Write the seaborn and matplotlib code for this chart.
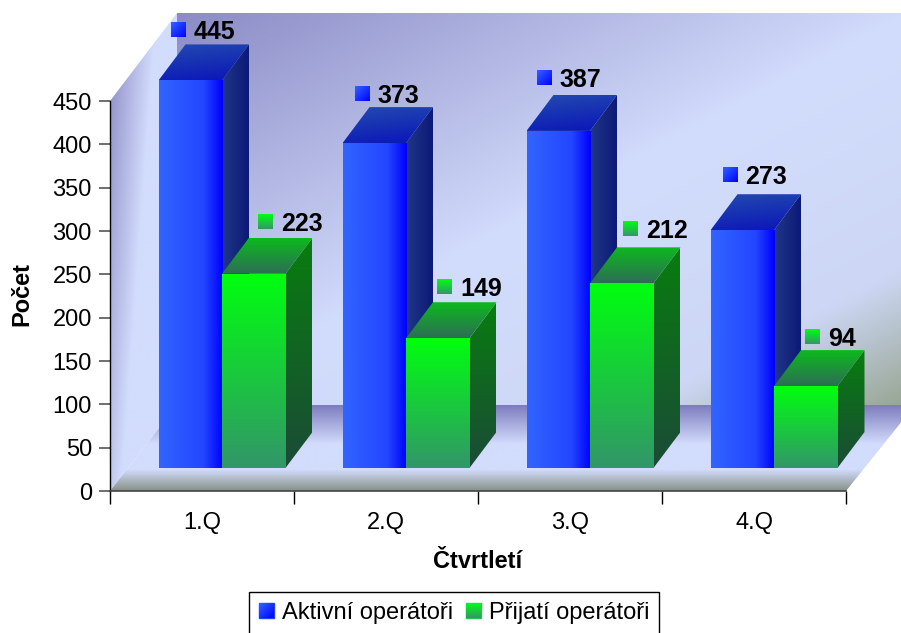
import numpy as np
import pandas as pd
import matplotlib
matplotlib.use("Agg")
import matplotlib.pyplot as plt
from matplotlib.patches import Polygon, Patch
import seaborn as sns

categories = ["1.Q", "2.Q", "3.Q", "4.Q"]
active = [445, 373, 387, 273]
accepted = [223, 149, 212, 94]
series_names = ["Aktivní operátoři", "Přijatí operátoři"]
y_ticks = [0, 50, 100, 150, 200, 250, 300, 350, 400, 450]

W, H = 901, 633
sns.set_theme(style="white")
plt.rcParams["font.family"] = ["Liberation Sans", "DejaVu Sans"]
fig = plt.figure(figsize=(W / 100, H / 100), dpi=100)
fig.patch.set_facecolor("white")


def axes_px(left, top, right, bottom, **kw):
    return fig.add_axes([left / W, 1 - bottom / H, (right - left) / W, (bottom - top) / H], **kw)


def c(*rgb):
    return np.array(rgb, float) / 255


def grad(ax, pts, tfunc, stops, zorder, clip=None):
    pts = np.asarray(pts, float)
    x0, y0 = pts.min(0)
    x1, y1 = pts.max(0)
    u, v = np.meshgrid(np.linspace(0, 1, 128), np.linspace(0, 1, 128))
    t = np.clip(tfunc(u, v), 0, 1)
    pos = [s[0] for s in stops]
    img = np.dstack([np.interp(t, pos, [s[1][k] for s in stops]) for k in range(3)])
    ext = (x0, x1, y1, y0) if ax.yaxis_inverted() else (x0, x1, y0, y1)
    im = ax.imshow(img, extent=ext, origin="upper", aspect="auto", zorder=zorder,
                   interpolation="bilinear")
    if clip is None:
        clip = Polygon(pts, closed=True, transform=ax.transData, facecolor="none", edgecolor="none")
    im.set_clip_path(clip)
    return im


LIGHT = c(210, 220, 252)

# ---- scene: walls and floor, in pixel coordinates
scene = axes_px(0, 0, W, H)
scene.set_xlim(0, W)
scene.set_ylim(H, 0)
scene.axis("off")
scene.set_zorder(0)
grad(scene, [(177, 13), (915, 13), (915, 405), (177, 405)],
     lambda u, v: (u + v) / 2,
     [(0, c(140, 140, 198)), (0.5, LIGHT), (0.82, c(205, 215, 245)), (1, c(150, 165, 145))], 1)
grad(scene, [(110, 101), (177, 13), (177, 405), (110, 491)],
     lambda u, v: u * 1.7 + (v - 0.2) * 0.9,
     [(0, c(150, 150, 205)), (1, LIGHT)], 2)
grad(scene, [(110, 491), (177, 405), (915, 405), (846, 491)],
     lambda u, v: v,
     [(0, c(125, 125, 190)), (0.45, LIGHT), (0.75, LIGHT), (1, c(135, 145, 135))], 3)

# ---- axis frame with ticks
axf = axes_px(110, 101, 846, 491)
axf.set_zorder(1)
axf.patch.set_alpha(0)
axf.set_xlim(0, 4)
axf.set_ylim(0, 450)
axf.set_yticks(y_ticks)
axf.set_xticks(range(5))
axf.set_xticklabels([])
axf.set_xticks(np.arange(4) + 0.5, minor=True)
axf.set_xticklabels(categories, minor=True)
axf.tick_params(axis="x", which="major", length=9, width=1, color="black", bottom=True)
axf.tick_params(axis="x", which="minor", length=0, pad=15, labelsize=17, colors="black", bottom=True)
axf.tick_params(axis="y", length=8, width=1.2, color="#555555", pad=5, labelsize=17,
                labelcolor="black", left=True)
for name in ["top", "right"]:
    axf.spines[name].set_visible(False)
axf.spines["left"].set_color("black")
axf.spines["bottom"].set_color("#444444")
axf.spines["left"].set_linewidth(1.0)
axf.spines["bottom"].set_linewidth(1.2)
axf.set_xlabel("Čtvrtletí", fontsize=17, fontweight="bold", color="black")
axf.set_ylabel("Počet", fontsize=17, fontweight="bold", color="black")
axf.xaxis.set_label_coords(0.5, (491 - 562) / 390)
axf.yaxis.set_label_coords((22 - 110) / 736, 0.505)
axf.xaxis.label.set_verticalalignment("center")
axf.yaxis.label.set_verticalalignment("center")

# ---- bars: base plane sits deeper in the box than the axis frame
PX_PER_UNIT = 0.871
axb = axes_px(130, 468 - 500 * PX_PER_UNIT, 866, 468)
axb.set_zorder(2)
axb.patch.set_alpha(0)
df = pd.DataFrame({
    "Čtvrtletí": categories * 2,
    "Počet": active + accepted,
    "Série": [series_names[0]] * 4 + [series_names[1]] * 4,
})
palette = {series_names[0]: "#1f40ff", series_names[1]: "#22c55a"}
sns.barplot(data=df, x="Čtvrtletí", y="Počet", hue="Série", palette=palette, saturation=1,
            width=0.69, gap=0, dodge=True, errorbar=None, legend=False, ax=axb)
axb.set_xlim(-0.5, 3.5)
axb.set_ylim(0, 500)
axb.axis("off")

DX = 27 / 184
DY = 36 / PX_PER_UNIT
styles = [
    dict(front=(lambda u, v: u, [(0, c(50, 100, 255)), (0.7, c(35, 70, 255)), (1, c(0, 0, 255))]),
         top=(lambda u, v: (v + u * 0.3) / 1.3, [(0, c(35, 75, 175)), (1, c(10, 20, 185))]),
         side=(lambda u, v: u, [(0, c(32, 55, 135)), (1, c(12, 25, 120))])),
    dict(front=(lambda u, v: v, [(0, c(0, 255, 15)), (1, c(50, 150, 105))]),
         top=(lambda u, v: v, [(0, c(12, 185, 30)), (1, c(45, 110, 85))]),
         side=(lambda u, v: v, [(0, c(8, 125, 15)), (1, c(27, 75, 55))])),
]
for s, container in enumerate(axb.containers):
    for i, bar in enumerate(container):
        z = 10 + i * 10 + s * 3
        x0, x1, h = bar.get_x(), bar.get_x() + bar.get_width(), bar.get_height()
        side = [(x1, 0), (x1 + DX, DY), (x1 + DX, h + DY), (x1, h)]
        top = [(x0, h), (x1, h), (x1 + DX, h + DY), (x0 + DX, h + DY)]
        grad(axb, side, *styles[s]["side"], z)
        grad(axb, top, *styles[s]["top"], z + 0.1)
        bar.set_zorder(z + 0.2)
        bar.set_linewidth(0)
        grad(axb, [(x0, 0), (x1, 0), (x1, h), (x0, h)], *styles[s]["front"], z + 0.3, clip=bar)

# ---- legend
leg = fig.legend(handles=[Patch(color=palette[n], label=n) for n in series_names],
                 loc="upper left", bbox_to_anchor=(249 / W, 1 - 592 / H), ncol=2,
                 fontsize=17, frameon=True, fancybox=False, framealpha=1, facecolor="white",
                 edgecolor="black", handlelength=0.635, handleheight=0.635, handletextpad=0.34,
                 borderpad=0.42, columnspacing=0.55, borderaxespad=0, labelcolor="black")
leg.get_frame().set_linewidth(1.0)

# ---- top layer: value labels with their keys, gradient legend keys
top_ax = axes_px(0, 0, W, H)
top_ax.set_xlim(0, W)
top_ax.set_ylim(H, 0)
top_ax.axis("off")
top_ax.patch.set_alpha(0)
top_ax.set_zorder(10)
fig.canvas.draw()

key_styles = [(lambda u, v: (u + v) / 2, [(0, c(50, 100, 255)), (1, c(0, 0, 255))]),
              styles[1]["front"]]


def square(x, y, s, z=20):
    grad(top_ax, [(x, y), (x + 15, y), (x + 15, y + 15), (x, y + 15)], *key_styles[s], z)


to_px = top_ax.transData.inverted()
# small per-label placement corrections, pixels
KEY_DX = [[12, 12, 10, 12], [36, 31, 33, 31]]
KEY_DY = [[-51, -50, -53, -56], [-52, -52, -55, -50]]
for s, container in enumerate(axb.containers):
    for i, bar in enumerate(container):
        px, py = to_px.transform(axb.transData.transform((bar.get_x(), bar.get_height())))
        kx, ky = px + KEY_DX[s][i], py + KEY_DY[s][i]
        square(kx, ky - 7.5, s)
        top_ax.text(kx + 23, ky, f"{bar.get_height():.0f}", fontsize=18, fontweight="bold",
                    color="black", va="center_baseline", ha="left", zorder=21)

for s, h in enumerate(leg.legend_handles):
    bb = h.get_window_extent()
    (hx, hy) = to_px.transform((bb.x0, bb.y1))
    square(hx, hy, s)

fig.savefig("out.png", dpi=100)
